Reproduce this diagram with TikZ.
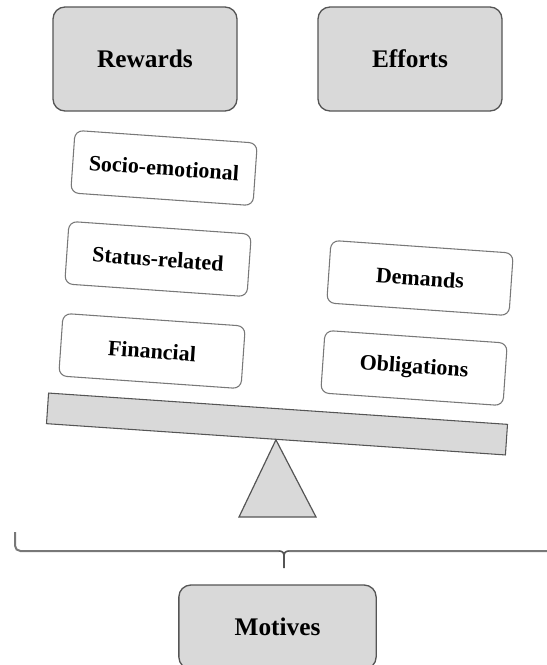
\documentclass[tikz,border=0pt]{standalone}
\usepackage{fontspec}
\setmainfont{Liberation Serif}
\usepackage{tikz}
\definecolor{boxgray}{RGB}{217,217,217}
\definecolor{edgegray}{RGB}{85,85,85}
\definecolor{lightedge}{RGB}{120,120,120}
\tikzset{
  headbox/.style={draw=edgegray,line width=1pt,fill=boxgray,rounded corners=9pt,
    minimum width=138pt,minimum height=78pt,font=\bfseries\fontsize{19}{22}\selectfont},
  tiltbox/.style={draw=lightedge,line width=0.8pt,fill=white,rounded corners=6pt,
    minimum width=137pt,minimum height=47pt,rotate=-4,font=\bfseries\fontsize{16.5}{19}\selectfont},
  beambox/.style={draw=edgegray,line width=0.8pt,fill=boxgray,
    minimum width=345pt,minimum height=23pt,rotate=-3.9,inner sep=0pt},
}
\begin{document}
\begin{tikzpicture}[x=0.75pt,y=0.75pt,yscale=-1,xscale=1]
\useasboundingbox (0,0) rectangle (547,665);

%Rounded Rect: top boxes
\node[headbox] (rewards) at (145,59) {Rewards};
\node[headbox] (efforts) at (410,59) {Efforts};

%Rounded Rect: reward items
\node[tiltbox] (socio) at (164,168) {Socio-emotional};
\node[tiltbox] (status) at (158,259) {Status-related};
\node[tiltbox] (financial) at (152,351) {Financial};

%Rounded Rect: effort items
\node[tiltbox] (demands) at (420,278) {Demands};
\node[tiltbox] (obligations) at (414,368) {Obligations};

%Shape: beam and pivot
\node[beambox] (beam) at (277,424) {};
\coordinate (pivotL) at (239,517);
\coordinate (pivotR) at (316,517);
\draw[draw=edgegray,line width=0.9pt,fill=boxgray] (beam.south) -- (pivotR) -- (pivotL) -- cycle;

%Brace
\coordinate (braceL) at (15,532);
\coordinate (braceR) at (553,532);
\coordinate (braceTip) at (284,568);
\draw[lightedge,line width=1.5pt,rounded corners=4pt] (braceL) -- (15,551) -- (279,551);
\draw[lightedge,line width=1.5pt,rounded corners=4pt] (289,551) -- (553,551) -- (braceR);
\draw[edgegray,line width=1.2pt] (279,551) .. controls (283,551) and (284,553) .. (284,557) -- (braceTip);
\draw[edgegray,line width=1.2pt] (289,551) .. controls (285,551) and (284,553) .. (284,557);

%Rounded Rect: bottom box
\node[headbox,minimum width=148pt,minimum height=63pt] (motives) at (277.5,627) {Motives};

\end{tikzpicture}
\end{document}
